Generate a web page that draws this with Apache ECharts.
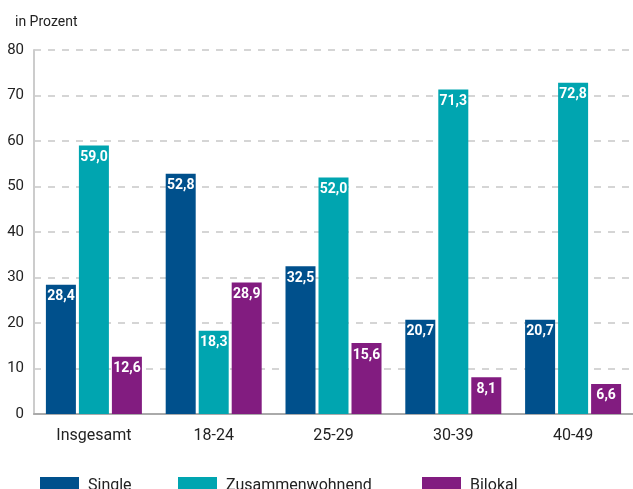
<!DOCTYPE html>
<html><head><meta charset="utf-8">
<script src="https://cdn.jsdelivr.net/npm/echarts@6/dist/echarts.min.js"></script>
<style>html,body{margin:0;padding:0;background:#fff}#c{width:633px;height:489px}</style>
</head><body><div id="c"></div>
<script>
const categories = ['Insgesamt','18-24','25-29','30-39','40-49'];
const seriesNames = ['Single','Zusammenwohnend','Bilokal'];
const single = [28.4, 52.8, 32.5, 20.7, 20.7];
const zusammen = [59.0, 18.3, 52.0, 71.3, 72.8];
const bilokal = [12.6, 28.9, 15.6, 8.1, 6.6];
const yTicks = [0,10,20,30,40,50,60,70,80];
const FONT = 'Roboto, sans-serif';
const colors = ['#00508c','#00a5b0','#821c80'];
const legendLeft = [35, 173, 417];
const fmt = p => p.value.toFixed(1).replace('.', ',');
const lbl = {show:true, position:'insideTop', distance:5, color:'#fff', fontWeight:'bold', fontSize:14, fontFamily:FONT, formatter:fmt};
const chart = echarts.init(document.getElementById('c'));
chart.setOption({
  animation:false,
  textStyle:{fontFamily:FONT},
  title:{text:'in Prozent', left:10, top:10, textStyle:{fontSize:14, fontWeight:'normal', color:'#222', fontFamily:FONT}},
  legend: seriesNames.map((n,i)=>({data:[n], left:legendLeft[i], top:472, itemWidth:39, itemHeight:18, icon:'rect',
    textStyle:{fontSize:16, color:'#222', fontFamily:FONT, padding:[0,0,0,4]}})),
  grid:{left:34, top:50, width:612, height:364},
  xAxis:{type:'category', data:categories,
    axisLine:{lineStyle:{color:'#aaa', width:2}}, axisTick:{show:false},
    axisLabel:{fontSize:16, color:'#222', margin:14, fontFamily:FONT}},
  yAxis:{type:'value', min:yTicks[0], max:yTicks[yTicks.length-1], interval:10,
    axisLine:{show:true, lineStyle:{color:'#ccc', width:2}},
    axisLabel:{fontSize:15, color:'#222', margin:10, fontFamily:FONT},
    splitLine:{lineStyle:{type:[7,7], color:'#c8c8c8', width:1.5}}},
  series:[
    {name:seriesNames[0], type:'bar', data:single, barWidth:30, barGap:'10%', itemStyle:{color:colors[0]}, label:lbl},
    {name:seriesNames[1], type:'bar', data:zusammen, barWidth:30, barGap:'10%', itemStyle:{color:colors[1]}, label:lbl},
    {name:seriesNames[2], type:'bar', data:bilokal, barWidth:30, barGap:'10%', itemStyle:{color:colors[2]}, label:lbl}
  ]
});
</script></body></html>
